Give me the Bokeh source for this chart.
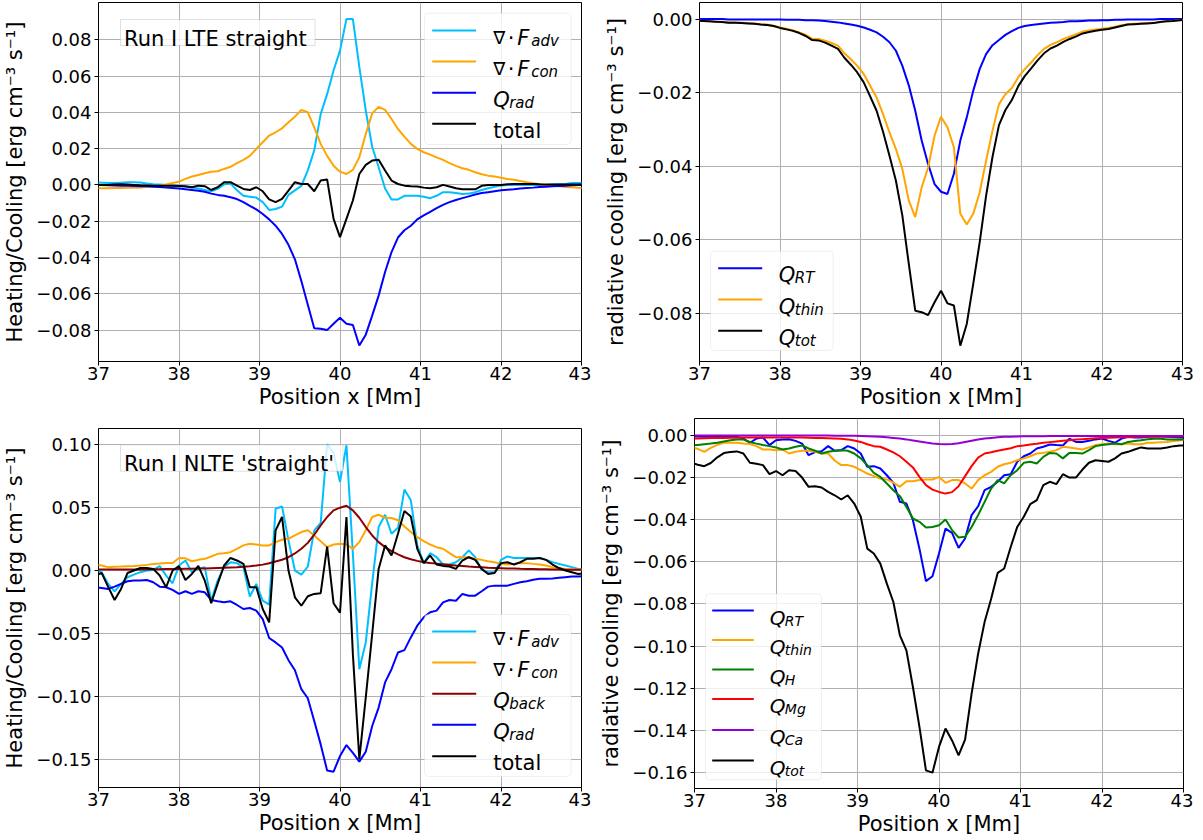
from bokeh.plotting import figure
from bokeh.models import Range1d, FixedTicker, CustomJSTickFormatter, BoxAnnotation, Label, ColumnDataSource
from bokeh.layouts import column, row
from bokeh.embed import file_html
from bokeh.resources import INLINE

# ---------------- data (position in Mm) ----------------
X = [36.96, 37.04, 37.12, 37.20, 37.28, 37.36, 37.44, 37.52, 37.60, 37.68, 37.76,
     37.84, 37.92, 38.00, 38.08, 38.16, 38.24, 38.32, 38.40, 38.48, 38.56, 38.64,
     38.72, 38.80, 38.88, 38.96, 39.04, 39.12, 39.20, 39.28, 39.36, 39.44, 39.52,
     39.60, 39.68, 39.76, 39.84, 39.92, 40.00, 40.08, 40.16, 40.24, 40.32, 40.40,
     40.48, 40.56, 40.64, 40.72, 40.80, 40.88, 40.96, 41.04, 41.12, 41.20, 41.28,
     41.36, 41.44, 41.52, 41.60, 41.68, 41.76, 41.84, 41.92, 42.00, 42.08, 42.16,
     42.24, 42.32, 42.40, 42.48, 42.56, 42.64, 42.72, 42.80, 42.88, 42.96, 43.04]

# Panel 1: Run I LTE straight
P1_ADV = [0.0013, 0.0012, 0.0010, 0.0010, 0.0012, 0.0014, 0.0015, 0.0013, 0.0008, 0.0004, 0.0002,
          0.0000, -0.0003, -0.0006, -0.0010, -0.0014, -0.0020, -0.0028, -0.0035, -0.0022, 0.0003, 0.0008,
          -0.0030, -0.0060, -0.0065, -0.0070, -0.0095, -0.0138, -0.0133, -0.0120, -0.0055, -0.0030, -0.0005,
          0.0080, 0.0190, 0.0390, 0.0500, 0.0630, 0.0740, 0.0914, 0.0914, 0.0650, 0.0410, 0.0210,
          0.0097, -0.0020, -0.0080, -0.0080, -0.0060, -0.0060, -0.0060, -0.0065, -0.0073, -0.0060, -0.0040,
          -0.0040, -0.0045, -0.0050, -0.0048, -0.0040, -0.0028, -0.0018, -0.0010, -0.0003, 0.0000, 0.0000,
          0.0000, 0.0000, 0.0000, 0.0000, 0.0000, 0.0002, 0.0004, 0.0005, 0.0010, 0.0010, 0.0010]
P1_CON = [-0.0018, -0.0018, -0.0018, -0.0017, -0.0017, -0.0016, -0.0015, -0.0014, -0.0012, -0.0008, -0.0004,
          0.0002, 0.0010, 0.0018, 0.0033, 0.0046, 0.0055, 0.0064, 0.0072, 0.0075, 0.0088, 0.0100,
          0.0120, 0.0138, 0.0160, 0.0198, 0.0235, 0.0272, 0.0290, 0.0312, 0.0345, 0.0376, 0.0413,
          0.0400, 0.0317, 0.0226, 0.0160, 0.0106, 0.0073, 0.0060, 0.0083, 0.0152, 0.0280, 0.0394,
          0.0430, 0.0413, 0.0363, 0.0308, 0.0266, 0.0226, 0.0198, 0.0180, 0.0167, 0.0152, 0.0138,
          0.0120, 0.0105, 0.0092, 0.0083, 0.0070, 0.0059, 0.0051, 0.0046, 0.0040, 0.0033, 0.0028,
          0.0022, 0.0015, 0.0009, 0.0004, -0.0002, -0.0005, -0.0007, -0.0011, -0.0013, -0.0016, -0.0018]
P1_RAD = [0.0000, -0.0001, -0.0002, -0.0003, -0.0004, -0.0005, -0.0006, -0.0007, -0.0008, -0.0010, -0.0012,
          -0.0014, -0.0017, -0.0020, -0.0024, -0.0028, -0.0032, -0.0038, -0.0048, -0.0055, -0.0060, -0.0068,
          -0.0078, -0.0095, -0.0115, -0.0135, -0.0160, -0.0190, -0.0225, -0.0270, -0.0330, -0.0410, -0.0530,
          -0.0660, -0.0790, -0.0793, -0.0800, -0.0765, -0.0732, -0.0765, -0.0772, -0.0885, -0.0825, -0.0720,
          -0.0610, -0.0480, -0.0370, -0.0290, -0.0250, -0.0225, -0.0190, -0.0168, -0.0148, -0.0128, -0.0110,
          -0.0095, -0.0083, -0.0073, -0.0063, -0.0053, -0.0045, -0.0040, -0.0035, -0.0030, -0.0027, -0.0024,
          -0.0020, -0.0017, -0.0015, -0.0012, -0.0010, -0.0008, -0.0006, -0.0004, -0.0002, -0.0001, 0.0000]
P1_TOT = [0.0000, 0.0000, 0.0000, 0.0002, 0.0003, 0.0002, 0.0000, -0.0002, -0.0003, -0.0004, -0.0005,
          -0.0005, -0.0005, -0.0006, -0.0007, -0.0013, -0.0004, -0.0007, -0.0028, -0.0013, 0.0015, 0.0015,
          -0.0004, -0.0022, -0.0028, -0.0013, -0.0035, -0.0080, -0.0095, -0.0077, -0.0031, 0.0015, 0.0005,
          0.0005, -0.0035, 0.0024, 0.0030, -0.0187, -0.0288, -0.0187, -0.0086, 0.0060, 0.0110, 0.0134,
          0.0138, 0.0079, 0.0024, 0.0005, -0.0004, -0.0007, -0.0009, -0.0015, -0.0018, -0.0013, 0.0000,
          -0.0009, -0.0018, -0.0024, -0.0024, -0.0024, -0.0005, 0.0000, 0.0000, 0.0000, 0.0003, 0.0005,
          0.0005, 0.0005, 0.0005, 0.0003, 0.0002, 0.0002, 0.0002, 0.0002, 0.0002, 0.0002, 0.0002]

# Panel 2: radiative cooling, LTE
P2_RT = [0.0000, 0.0000, 0.0000, 0.0000, 0.0000, -0.0001, -0.0001, -0.0001, -0.0001, -0.0001, -0.0001,
         -0.0001, -0.0001, -0.0001, -0.0002, -0.0002, -0.0002, -0.0003, -0.0003, -0.0004, -0.0005, -0.0007,
         -0.0009, -0.0012, -0.0015, -0.0018, -0.0023, -0.0029, -0.0036, -0.0048, -0.0063, -0.0086, -0.0127,
         -0.0180, -0.0249, -0.0330, -0.0394, -0.0448, -0.0469, -0.0475, -0.0420, -0.0330, -0.0267, -0.0195,
         -0.0136, -0.0095, -0.0071, -0.0057, -0.0043, -0.0033, -0.0024, -0.0019, -0.0016, -0.0014, -0.0012,
         -0.0010, -0.0009, -0.0008, -0.0006, -0.0006, -0.0005, -0.0004, -0.0004, -0.0003, -0.0003, -0.0002,
         -0.0002, -0.0001, -0.0001, -0.0001, -0.0001, -0.0001, 0.0000, 0.0000, 0.0000, 0.0000, 0.0000]
P2_THIN = [-0.0004, -0.0005, -0.0006, -0.0007, -0.0008, -0.0009, -0.0009, -0.0010, -0.0011, -0.0012, -0.0014,
           -0.0015, -0.0018, -0.0023, -0.0026, -0.0030, -0.0036, -0.0043, -0.0054, -0.0054, -0.0059, -0.0065,
           -0.0072, -0.0093, -0.0109, -0.0127, -0.0149, -0.0181, -0.0213, -0.0258, -0.0308, -0.0353, -0.0407,
           -0.0493, -0.0538, -0.0457, -0.0403, -0.0317, -0.0265, -0.0294, -0.0348, -0.0529, -0.0558, -0.0529,
           -0.0471, -0.0385, -0.0303, -0.0231, -0.0204, -0.0187, -0.0158, -0.0136, -0.0118, -0.0098, -0.0081,
           -0.0070, -0.0063, -0.0054, -0.0048, -0.0041, -0.0034, -0.0031, -0.0028, -0.0026, -0.0024, -0.0021,
           -0.0017, -0.0014, -0.0013, -0.0012, -0.0011, -0.0010, -0.0008, -0.0006, -0.0005, -0.0003, -0.0002]
P2_TOT = [-0.0004, -0.0005, -0.0006, -0.0007, -0.0008, -0.0010, -0.0010, -0.0011, -0.0012, -0.0013, -0.0015,
          -0.0016, -0.0019, -0.0024, -0.0028, -0.0032, -0.0038, -0.0046, -0.0057, -0.0058, -0.0064, -0.0072,
          -0.0081, -0.0105, -0.0124, -0.0145, -0.0172, -0.0210, -0.0249, -0.0306, -0.0371, -0.0439, -0.0534,
          -0.0665, -0.0792, -0.0796, -0.0804, -0.0769, -0.0738, -0.0772, -0.0778, -0.0887, -0.0828, -0.0720,
          -0.0607, -0.0480, -0.0374, -0.0288, -0.0247, -0.0220, -0.0182, -0.0155, -0.0134, -0.0112, -0.0093,
          -0.0080, -0.0072, -0.0062, -0.0054, -0.0047, -0.0039, -0.0035, -0.0032, -0.0029, -0.0027, -0.0023,
          -0.0019, -0.0015, -0.0014, -0.0013, -0.0012, -0.0011, -0.0008, -0.0006, -0.0005, -0.0003, -0.0002]

# Panel 3: Run I NLTE 'straight'
P3_ADV = [0.0000, -0.0013, -0.0106, -0.0165, -0.0106, -0.0053, -0.0032, -0.0013, 0.0000, 0.0005, 0.0035,
          -0.0040, -0.0101, 0.0040, 0.0080, -0.0013, 0.0013, 0.0027, -0.0240, -0.0080, 0.0027, 0.0066,
          0.0059, 0.0027, -0.0207, -0.0106, -0.0240, -0.0271, 0.0492, 0.0510, 0.0240, 0.0000, -0.0032,
          0.0032, 0.0320, 0.0378, 0.1005, 0.0936, 0.0705, 0.0997, 0.0133, -0.0785, -0.0572, -0.0100,
          0.0346, 0.0444, 0.0293, 0.0340, 0.0644, 0.0559, 0.0200, 0.0059, 0.0138, 0.0106, 0.0048,
          0.0048, 0.0066, 0.0106, 0.0160, 0.0106, 0.0005, -0.0013, -0.0013, 0.0085, 0.0112, 0.0100,
          0.0100, 0.0100, 0.0100, 0.0100, 0.0085, 0.0066, 0.0053, 0.0040, 0.0027, 0.0013, 0.0005]
P3_CON = [0.0048, 0.0040, 0.0027, 0.0030, 0.0032, 0.0035, 0.0037, 0.0040, 0.0045, 0.0053, 0.0056,
          0.0060, 0.0060, 0.0100, 0.0097, 0.0074, 0.0085, 0.0093, 0.0112, 0.0133, 0.0138, 0.0146,
          0.0173, 0.0200, 0.0213, 0.0207, 0.0200, 0.0200, 0.0226, 0.0245, 0.0253, 0.0279, 0.0306,
          0.0320, 0.0279, 0.0234, 0.0186, 0.0207, 0.0213, 0.0207, 0.0173, 0.0226, 0.0320, 0.0426,
          0.0444, 0.0420, 0.0418, 0.0400, 0.0351, 0.0306, 0.0266, 0.0234, 0.0207, 0.0186, 0.0173,
          0.0138, 0.0106, 0.0106, 0.0106, 0.0093, 0.0085, 0.0074, 0.0066, 0.0053, 0.0048, 0.0053,
          0.0059, 0.0059, 0.0053, 0.0048, 0.0040, 0.0027, 0.0020, 0.0013, 0.0010, 0.0008, 0.0005]
P3_BACK = [0.0008, 0.0008, 0.0008, 0.0008, 0.0008, 0.0008, 0.0008, 0.0009, 0.0009, 0.0010, 0.0011,
           0.0012, 0.0012, 0.0013, 0.0014, 0.0015, 0.0016, 0.0017, 0.0019, 0.0021, 0.0023, 0.0025,
           0.0027, 0.0030, 0.0034, 0.0040, 0.0047, 0.0058, 0.0072, 0.0086, 0.0106, 0.0136, 0.0173,
           0.0220, 0.0285, 0.0359, 0.0426, 0.0479, 0.0500, 0.0515, 0.0479, 0.0420, 0.0346, 0.0279,
           0.0226, 0.0186, 0.0154, 0.0128, 0.0106, 0.0090, 0.0077, 0.0066, 0.0060, 0.0055, 0.0050,
           0.0045, 0.0040, 0.0036, 0.0032, 0.0029, 0.0026, 0.0023, 0.0021, 0.0019, 0.0017, 0.0016,
           0.0014, 0.0013, 0.0012, 0.0011, 0.0010, 0.0009, 0.0008, 0.0007, 0.0006, 0.0006, 0.0005]
P3_RAD = [-0.0133, -0.0138, -0.0146, -0.0128, -0.0106, -0.0085, -0.0080, -0.0080, -0.0075, -0.0093, -0.0128,
          -0.0133, -0.0154, -0.0186, -0.0165, -0.0186, -0.0165, -0.0173, -0.0234, -0.0245, -0.0253, -0.0245,
          -0.0274, -0.0306, -0.0298, -0.0319, -0.0386, -0.0537, -0.0572, -0.0612, -0.0713, -0.0793, -0.0944,
          -0.1016, -0.1197, -0.1383, -0.1590, -0.1600, -0.1476, -0.1388, -0.1450, -0.1520, -0.1441, -0.1237,
          -0.1090, -0.0890, -0.0785, -0.0652, -0.0633, -0.0532, -0.0439, -0.0372, -0.0332, -0.0319, -0.0253,
          -0.0234, -0.0240, -0.0186, -0.0200, -0.0200, -0.0165, -0.0128, -0.0120, -0.0120, -0.0120, -0.0106,
          -0.0093, -0.0085, -0.0074, -0.0066, -0.0066, -0.0064, -0.0058, -0.0053, -0.0048, -0.0048, -0.0043]
P3_TOT = [-0.0040, -0.0020, -0.0130, -0.0234, -0.0146, -0.0020, 0.0000, 0.0020, 0.0020, 0.0013, -0.0040,
          -0.0133, 0.0000, 0.0035, -0.0075, -0.0027, 0.0037, -0.0080, -0.0260, -0.0106, 0.0040, 0.0100,
          0.0080, 0.0053, -0.0133, -0.0133, -0.0306, -0.0412, 0.0320, 0.0426, 0.0000, -0.0213, -0.0280,
          -0.0205, -0.0186, -0.0180, 0.0190, -0.0260, -0.0335, 0.0426, -0.0665, -0.1500, -0.1010, -0.0505,
          0.0013, 0.0200, 0.0120, 0.0293, 0.0473, 0.0430, 0.0173, 0.0059, 0.0120, 0.0048, 0.0037,
          0.0032, 0.0013, 0.0080, 0.0106, 0.0085, 0.0013, -0.0027, -0.0020, 0.0059, 0.0066, 0.0048,
          0.0066, 0.0093, 0.0093, 0.0100, 0.0085, 0.0048, 0.0020, 0.0000, -0.0013, -0.0027, -0.0020]

# Panel 4: radiative cooling, NLTE
P4_RT = [-0.0005, -0.0006, -0.0008, -0.0008, -0.0006, -0.0005, -0.0005, -0.0008, -0.0016, -0.0036, -0.0016,
         -0.0011, -0.0047, -0.0024, -0.0020, -0.0019, -0.0027, -0.0040, -0.0095, -0.0080, -0.0076, -0.0052,
         -0.0074, -0.0071, -0.0052, -0.0063, -0.0087, -0.0150, -0.0147, -0.0158, -0.0190, -0.0226, -0.0316,
         -0.0324, -0.0403, -0.0538, -0.0692, -0.0669, -0.0561, -0.0443, -0.0463, -0.0534, -0.0490, -0.0379,
         -0.0337, -0.0261, -0.0245, -0.0221, -0.0190, -0.0185, -0.0126, -0.0100, -0.0087, -0.0063, -0.0055,
         -0.0044, -0.0047, -0.0049, -0.0017, -0.0032, -0.0032, -0.0027, -0.0020, -0.0016, -0.0027, -0.0036,
         -0.0016, -0.0008, -0.0011, -0.0011, -0.0008, -0.0005, -0.0005, -0.0008, -0.0009, -0.0011, -0.0011]
P4_THIN = [-0.0055, -0.0065, -0.0079, -0.0060, -0.0046, -0.0036, -0.0036, -0.0036, -0.0040, -0.0042, -0.0052,
           -0.0068, -0.0068, -0.0071, -0.0068, -0.0087, -0.0079, -0.0074, -0.0074, -0.0079, -0.0087, -0.0087,
           -0.0120, -0.0142, -0.0142, -0.0150, -0.0166, -0.0182, -0.0194, -0.0206, -0.0210, -0.0225, -0.0245,
           -0.0218, -0.0218, -0.0213, -0.0210, -0.0210, -0.0198, -0.0226, -0.0213, -0.0213, -0.0229, -0.0253,
           -0.0213, -0.0190, -0.0174, -0.0150, -0.0138, -0.0131, -0.0119, -0.0110, -0.0100, -0.0087, -0.0084,
           -0.0079, -0.0071, -0.0055, -0.0058, -0.0063, -0.0068, -0.0058, -0.0047, -0.0043, -0.0040, -0.0043,
           -0.0043, -0.0040, -0.0043, -0.0043, -0.0036, -0.0036, -0.0033, -0.0032, -0.0028, -0.0024, -0.0020]
P4_H = [-0.0047, -0.0047, -0.0043, -0.0040, -0.0036, -0.0030, -0.0024, -0.0021, -0.0021, -0.0032, -0.0040,
        -0.0047, -0.0052, -0.0058, -0.0068, -0.0063, -0.0055, -0.0049, -0.0063, -0.0074, -0.0087, -0.0079,
        -0.0074, -0.0071, -0.0074, -0.0087, -0.0110, -0.0142, -0.0179, -0.0198, -0.0229, -0.0261, -0.0289,
        -0.0340, -0.0395, -0.0411, -0.0438, -0.0435, -0.0427, -0.0400, -0.0450, -0.0485, -0.0482, -0.0435,
        -0.0379, -0.0316, -0.0253, -0.0213, -0.0229, -0.0190, -0.0166, -0.0131, -0.0126, -0.0134, -0.0103,
        -0.0084, -0.0087, -0.0110, -0.0084, -0.0084, -0.0087, -0.0071, -0.0052, -0.0047, -0.0043, -0.0040,
        -0.0043, -0.0032, -0.0028, -0.0024, -0.0019, -0.0017, -0.0017, -0.0020, -0.0020, -0.0020, -0.0019]
P4_MG = [-0.0016, -0.0016, -0.0015, -0.0014, -0.0013, -0.0013, -0.0012, -0.0012, -0.0011, -0.0011, -0.0011,
         -0.0011, -0.0011, -0.0011, -0.0011, -0.0011, -0.0011, -0.0011, -0.0012, -0.0013, -0.0014, -0.0015,
         -0.0016, -0.0017, -0.0020, -0.0025, -0.0032, -0.0043, -0.0052, -0.0055, -0.0068, -0.0082, -0.0100,
         -0.0126, -0.0153, -0.0198, -0.0237, -0.0258, -0.0269, -0.0277, -0.0270, -0.0242, -0.0194, -0.0147,
         -0.0106, -0.0087, -0.0081, -0.0074, -0.0068, -0.0062, -0.0052, -0.0049, -0.0044, -0.0041, -0.0036,
         -0.0033, -0.0030, -0.0027, -0.0024, -0.0021, -0.0019, -0.0017, -0.0015, -0.0013, -0.0012, -0.0011,
         -0.0010, -0.0010, -0.0009, -0.0008, -0.0008, -0.0007, -0.0007, -0.0006, -0.0006, -0.0006, -0.0005]
P4_CA = [-0.0002, -0.0002, -0.0002, -0.0002, -0.0002, -0.0002, -0.0002, -0.0002, -0.0002, -0.0002, -0.0002,
         -0.0002, -0.0002, -0.0002, -0.0002, -0.0002, -0.0002, -0.0002, -0.0002, -0.0002, -0.0002, -0.0002,
         -0.0003, -0.0003, -0.0003, -0.0003, -0.0004, -0.0005, -0.0006, -0.0008, -0.0010, -0.0013, -0.0016,
         -0.0020, -0.0025, -0.0030, -0.0035, -0.0039, -0.0042, -0.0043, -0.0042, -0.0038, -0.0032, -0.0026,
         -0.0021, -0.0016, -0.0013, -0.0010, -0.0008, -0.0007, -0.0006, -0.0005, -0.0005, -0.0005, -0.0005,
         -0.0004, -0.0004, -0.0004, -0.0004, -0.0004, -0.0004, -0.0004, -0.0004, -0.0004, -0.0004, -0.0004,
         -0.0004, -0.0004, -0.0004, -0.0004, -0.0004, -0.0004, -0.0004, -0.0004, -0.0004, -0.0004, -0.0004]
P4_TOT = [-0.0130, -0.0140, -0.0147, -0.0132, -0.0105, -0.0085, -0.0080, -0.0077, -0.0087, -0.0131, -0.0136,
          -0.0142, -0.0185, -0.0170, -0.0190, -0.0166, -0.0170, -0.0201, -0.0245, -0.0242, -0.0248, -0.0269,
          -0.0285, -0.0305, -0.0285, -0.0324, -0.0387, -0.0538, -0.0561, -0.0609, -0.0704, -0.0791, -0.0949,
          -0.1020, -0.1194, -0.1383, -0.1589, -0.1600, -0.1478, -0.1391, -0.1447, -0.1518, -0.1443, -0.1225,
          -0.1036, -0.0885, -0.0775, -0.0653, -0.0632, -0.0530, -0.0435, -0.0387, -0.0327, -0.0308, -0.0237,
          -0.0221, -0.0232, -0.0185, -0.0201, -0.0201, -0.0163, -0.0131, -0.0119, -0.0122, -0.0126, -0.0110,
          -0.0087, -0.0079, -0.0068, -0.0058, -0.0063, -0.0063, -0.0063, -0.0058, -0.0052, -0.0049, -0.0049]

X_TICKS = [37, 38, 39, 40, 41, 42, 43]
Y_TICKS_1 = [-0.08, -0.06, -0.04, -0.02, 0.0, 0.02, 0.04, 0.06, 0.08]
Y_TICKS_2 = [-0.08, -0.06, -0.04, -0.02, 0.0]
Y_TICKS_3 = [-0.15, -0.10, -0.05, 0.0, 0.05, 0.10]
Y_TICKS_4 = [-0.16, -0.14, -0.12, -0.10, -0.08, -0.06, -0.04, -0.02, 0.0]

for arr in [P1_ADV, P1_CON, P1_RAD, P1_TOT, P2_RT, P2_THIN, P2_TOT, P3_ADV, P3_CON, P3_BACK,
            P3_RAD, P3_TOT, P4_RT, P4_THIN, P4_H, P4_MG, P4_CA, P4_TOT]:
    assert len(arr) == len(X), len(arr)

FONT = "DejaVu Sans"
YLAB_1 = "Heating/Cooling [erg cm\u207b\u00b3 s\u207b\u00b9]"
YLAB_2 = "radiative cooling [erg cm\u207b\u00b3 s\u207b\u00b9]"

C_ADV = "#00bfff"
C_CON = "#ffa500"
C_RAD = "#0000ff"
C_TOT = "#000000"
C_BACK = "#8b0000"
C_H = "#008000"
C_MG = "#ff0000"
C_CA = "#9400d3"

FMT_JS = """
const a = Math.abs(tick);
if (a < 1e-9) { return "0.00"; }
return (tick < 0 ? "\u2212" : "") + a.toFixed(2);
"""


def make_panel(frame, borders, yr, yticks, ylabel):
    fl, ft, fw, fh = frame
    L, T, R, B = borders
    p = figure(frame_width=fw, frame_height=fh, min_border_left=L, min_border_top=T,
               min_border_right=R, min_border_bottom=B,
               x_range=Range1d(37, 43), y_range=Range1d(*yr),
               output_backend="svg", toolbar_location=None, title=None)
    p.background_fill_color = "white"
    p.border_fill_color = "white"
    p.outline_line_color = "black"
    p.outline_line_width = 1
    p.outline_line_alpha = 1.0
    p.xaxis.ticker = FixedTicker(ticks=X_TICKS, minor_ticks=[])
    p.yaxis.ticker = FixedTicker(ticks=yticks, minor_ticks=[])
    p.yaxis.formatter = CustomJSTickFormatter(code=FMT_JS)
    p.xaxis.axis_label = "Position x [Mm]"
    p.yaxis.axis_label = ylabel
    for ax in p.axis:
        ax.axis_line_color = None
        ax.major_tick_line_color = "black"
        ax.major_tick_out = 4
        ax.major_tick_in = 0
        ax.minor_tick_out = 0
        ax.minor_tick_in = 0
        ax.major_label_text_font = FONT
        ax.major_label_text_font_size = "18px"
        ax.major_label_text_color = "black"
        ax.axis_label_text_font = FONT
        ax.axis_label_text_font_size = "21px"
        ax.axis_label_text_font_style = "normal"
        ax.axis_label_text_color = "black"
    p.xaxis.major_label_standoff = 1
    p.xaxis.axis_label_standoff = 2
    p.yaxis.major_label_standoff = 3
    p.yaxis.axis_label_standoff = 6
    p.grid.grid_line_color = "#b0b0b0"
    p.grid.grid_line_width = 1
    return p


def to_data(p, frame, px, py):
    fl, ft, fw, fh = frame
    xs, xe = p.x_range.start, p.x_range.end
    ys, ye = p.y_range.start, p.y_range.end
    return xs + (px - fl) / fw * (xe - xs), ye - (py - ft) / fh * (ye - ys)


def add_text(p, frame, px, py, text, size, style):
    x, y = to_data(p, frame, px, py)
    p.add_layout(Label(x=x, y=y, text=text, text_font=FONT, text_font_size="%gpx" % size,
                       text_font_style=style, text_color="black",
                       text_align="left", text_baseline="alphabetic"))


def nabla(sub, S, SS):
    return [("\u2207", 0, "normal", S - 3, 0), ("\u00b7", 14.5, "normal", S, 0),
            ("F", 24, "italic", S, 0), (sub, 38, "italic", SS, 3)]


def qsym(sub, S, SS, dx=16):
    return [("Q", 0, "italic", S, 0), (sub, dx, "italic", SS, 3)]


def plain(t, S):
    return [(t, 0, "normal", S, 0)]


def add_legend(p, frame, box, line_x, rows, text_x, entries):
    l, t = to_data(p, frame, box[0], box[1])
    r, b = to_data(p, frame, box[2], box[3])
    p.add_layout(BoxAnnotation(left=l, right=r, top=t, bottom=b, fill_color="white", fill_alpha=0.8,
                               line_color="#cccccc", line_width=1, border_radius=4))
    x0, x1, ys, cols = [], [], [], []
    for (color, pieces), ry in zip(entries, rows):
        a, yy = to_data(p, frame, line_x[0], ry)
        c, _ = to_data(p, frame, line_x[1], ry)
        x0.append(a); x1.append(c); ys.append(yy); cols.append(color)
        for (txt, dx, style, sz, dy) in pieces:
            add_text(p, frame, text_x + dx, ry + 7 + dy, txt, sz, style)
    src = ColumnDataSource(dict(x0=x0, x1=x1, y=ys, c=cols))
    seg = p.segment(x0="x0", y0="y", x1="x1", y1="y", line_color="c", line_width=2, source=src)
    seg.level = "overlay"


def add_title_box(p, frame, box, tx, ty, text):
    l, t = to_data(p, frame, box[0], box[1])
    r, b = to_data(p, frame, box[2], box[3])
    p.add_layout(BoxAnnotation(left=l, right=r, top=t, bottom=b, fill_color="white", fill_alpha=0.8,
                               line_color="#999999", line_width=1))
    add_text(p, frame, tx, ty, text, 21, "normal")


def draw(p, series):
    data = {"x": X}
    for i, (ys, color) in enumerate(series):
        data["y%d" % i] = ys
    src = ColumnDataSource(data)
    for i, (ys, color) in enumerate(series):
        p.line("x", "y%d" % i, source=src, line_color=color, line_width=2)


# ---------------- panel 1 ----------------
F1 = (98, 2, 483, 359)
p1 = make_panel(F1, (98, 2, 10, 55), (-0.0973, 0.1005), Y_TICKS_1, YLAB_1)
draw(p1, [(P1_ADV, C_ADV), (P1_CON, C_CON), (P1_RAD, C_RAD), (P1_TOT, C_TOT)])
add_title_box(p1, F1, (120, 19, 314.5, 45), 123.5, 38.5, "Run I LTE straight")
add_legend(p1, F1, (424, 12.7, 570.7, 144), (431.7, 475.5), [30, 61, 92.3, 123.3], 492.7,
           [(C_ADV, nabla("adv", 21, 15)), (C_CON, nabla("con", 21, 15)),
            (C_RAD, qsym("rad", 21, 15)), (C_TOT, plain("total", 21))])

# ---------------- panel 2 ----------------
F2 = (699, 2, 483, 359)
p2 = make_panel(F2, (108, 2, 15, 55), (-0.0930, 0.0045), Y_TICKS_2, YLAB_2)
draw(p2, [(P2_RT, C_RAD), (P2_THIN, C_CON), (P2_TOT, C_TOT)])
add_legend(p2, F2, (710, 250.7, 832.7, 350), (717.7, 761.7), [267.7, 299, 330.3], 778.3,
           [(C_RAD, qsym("RT", 21, 15)), (C_CON, qsym("thin", 21, 15)), (C_TOT, qsym("tot", 21, 15))])

# ---------------- panel 3 ----------------
F3 = (98, 428, 483, 359)
p3 = make_panel(F3, (98, 12, 10, 50), (-0.1726, 0.1130), Y_TICKS_3, YLAB_1)
draw(p3, [(P3_ADV, C_ADV), (P3_CON, C_CON), (P3_BACK, C_BACK), (P3_RAD, C_RAD), (P3_TOT, C_TOT)])
add_title_box(p3, F3, (120, 444.3, 342.5, 470.7), 123.5, 463.3, "Run I NLTE 'straight'")
add_legend(p3, F3, (424, 614, 570.5, 776), (431.7, 475.7), [631, 662, 693.3, 724.3, 755.7], 492.7,
           [(C_ADV, nabla("adv", 21, 15)), (C_CON, nabla("con", 21, 15)),
            (C_BACK, qsym("back", 21, 15)), (C_RAD, qsym("rad", 21, 15)), (C_TOT, plain("total", 21))])

# ---------------- panel 4 ----------------
F4 = (694, 418, 489, 370)
p4 = make_panel(F4, (103, 2, 10, 49), (-0.1675, 0.0079), Y_TICKS_4, YLAB_2)
draw(p4, [(P4_RT, C_RAD), (P4_THIN, C_CON), (P4_H, C_H), (P4_MG, C_MG), (P4_CA, C_CA), (P4_TOT, C_TOT)])
add_legend(p4, F4, (705, 593.3, 821, 779.3), (711.7, 753.3), [610, 639.5, 669, 698.5, 729.5, 760], 769.3,
           [(C_RAD, qsym("RT", 20, 14, 15)), (C_CON, qsym("thin", 20, 14, 15)),
            (C_H, qsym("H", 20, 14, 15)), (C_MG, qsym("Mg", 20, 14, 15)),
            (C_CA, qsym("Ca", 20, 14, 15)), (C_TOT, qsym("tot", 20, 14, 15))])

# panels 3 and 4 have different frame tops, so each sits in its own column
layout = column(row(column(p1), column(p2)), row(column(p3), column(p4)))
open("out.html", "w").write(file_html(layout, INLINE))
